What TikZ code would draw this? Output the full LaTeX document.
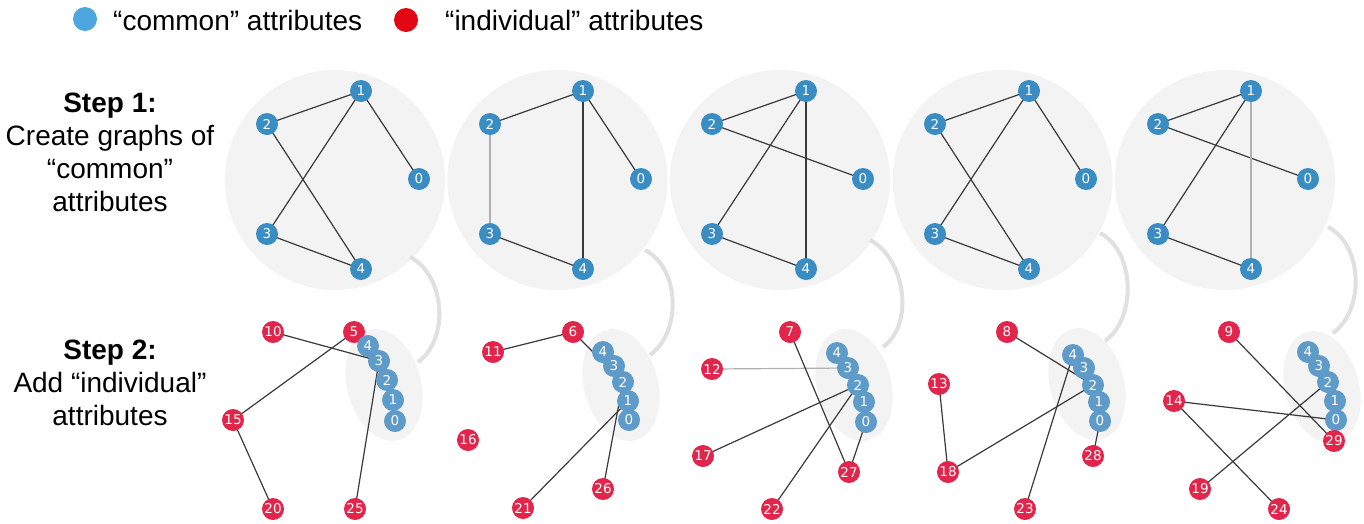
\documentclass[tikz,border=0pt]{standalone}
\usepackage{fontspec}
\setmainfont{Liberation Sans}
\newfontfamily\numfont{DejaVu Sans}
\pgfdeclarelayer{bg}
\pgfdeclarelayer{edges}
\pgfsetlayers{bg,edges,main}
\definecolor{topblue}{HTML}{3A8DC2}
\definecolor{chainblue}{HTML}{5E9BC8}
\definecolor{nodered}{HTML}{E2264B}
\definecolor{legblue}{HTML}{4DA6DE}
\definecolor{legred}{HTML}{E30613}
\definecolor{bggray}{HTML}{F3F3F3}
\definecolor{arcgray}{HTML}{E0E0E0}
\definecolor{edgecol}{HTML}{3A3A3A}
\definecolor{lightedge}{HTML}{B0B0B0}
\begin{document}
\begin{tikzpicture}[x=1pt,y=-1pt,
  nd/.style={circle, inner sep=0pt, minimum size=22pt, text=white, font=\numfont\fontsize{13.5}{13.5}\selectfont},
  tn/.style={nd, fill=topblue},
  cn/.style={nd, fill=chainblue},
  rn/.style={nd, fill=nodered},
  ed/.style={draw=edgecol, line width=1.2pt},
  led/.style={draw=lightedge, line width=1.2pt},
  bgc/.style={fill=bggray},
  link/.style={draw=arcgray, line width=4pt},
  legdot/.style={circle, inner sep=0pt, minimum width=23pt, minimum height=24pt},
  legtext/.style={anchor=west, inner sep=0pt, font=\fontsize{28}{33}\selectfont},
  steptext/.style={align=center, inner sep=0pt, font=\fontsize{28}{33}\selectfont}]
\useasboundingbox (0,0) rectangle (1364,523);
\begin{pgfonlayer}{bg}
\fill[white] (0,0) rectangle (1364,523);
\end{pgfonlayer}

% legend
\node[legdot, fill=legblue] (lb) at (85,19) {};
\node[legtext] (lbt) at (113,20) {“common” attributes};
\node[legdot, fill=legred] (lr) at (406,20) {};
\node[legtext] (lrt) at (445,20) {“individual” attributes};

% step labels
\node[steptext] (s1) at (110,152) {\textbf{Step 1:}\\Create graphs of\\“common”\\attributes};
\node[steptext] (s2) at (110,383) {\textbf{Step 2:}\\Add “individual”\\attributes};

% backgrounds
\begin{pgfonlayer}{bg}
\foreach \cx in {335,557.5,780,1002.5,1225}{\fill[bgc] (\cx,180) circle (110pt);}
\foreach \ex/\ey in {384/385,621/385,854/385,1087/384,1322/387}{
  \fill[bgc, rotate around={15:(\ex,\ey)}] (\ex,\ey) ellipse [x radius=37pt, y radius=57pt];}
\coordinate (a1s) at (410,257); \coordinate (a1e) at (418,362);
\coordinate (a2s) at (645,250); \coordinate (a2e) at (650,355);
\coordinate (a3s) at (870,240); \coordinate (a3e) at (883,347);
\coordinate (a4s) at (1100,233); \coordinate (a4e) at (1105,341);
\coordinate (a5s) at (1328,227); \coordinate (a5e) at (1333,333);
\foreach \i in {1,...,5}{\draw[link] (a\i s) .. controls +(35,18) and +(32,-23) .. (a\i e);}
\end{pgfonlayer}

% ---------- panel 1 ----------
\node[tn] (p1t1) at (361,91) {1};
\node[tn] (p1t2) at (267,124) {2};
\node[tn] (p1t0) at (419,179) {0};
\node[tn] (p1t3) at (267,234) {3};
\node[tn] (p1t4) at (361,269) {4};
\node[rn] (p1r10) at (273,332) {10};
\node[rn] (p1r5) at (354,332) {5};
\node[cn] (p1c4) at (368,346) {4};
\node[cn] (p1c3) at (379,361) {3};
\node[cn] (p1c2) at (387,380) {2};
\node[cn] (p1c1) at (393,400) {1};
\node[cn] (p1c0) at (395,421) {0};
\node[rn] (p1r15) at (233,420) {15};
\node[rn] (p1r20) at (273,509) {20};
\node[rn] (p1r25) at (355,509) {25};

% ---------- panel 2 ----------
\node[tn] (p2t1) at (583,91) {1};
\node[tn] (p2t2) at (490,124) {2};
\node[tn] (p2t0) at (641,179) {0};
\node[tn] (p2t3) at (490,234) {3};
\node[tn] (p2t4) at (583,269) {4};
\node[rn] (p2r6) at (573,332) {6};
\node[rn] (p2r11) at (493,352) {11};
\node[cn] (p2c4) at (603,352) {4};
\node[cn] (p2c3) at (614,366) {3};
\node[cn] (p2c2) at (623,382) {2};
\node[cn] (p2c1) at (628,401) {1};
\node[cn] (p2c0) at (629,420) {0};
\node[rn] (p2r16) at (468,440) {16};
\node[rn] (p2r21) at (523,508) {21};
\node[rn] (p2r26) at (603,489) {26};

% ---------- panel 3 ----------
\node[tn] (p3t1) at (806,91) {1};
\node[tn] (p3t2) at (712,124) {2};
\node[tn] (p3t0) at (863,179) {0};
\node[tn] (p3t3) at (712,234) {3};
\node[tn] (p3t4) at (806,269) {4};
\node[rn] (p3r7) at (790,332) {7};
\node[rn] (p3r12) at (712,369) {12};
\node[cn] (p3c4) at (837,353) {4};
\node[cn] (p3c3) at (848,368) {3};
\node[cn] (p3c2) at (858,385) {2};
\node[cn] (p3c1) at (864,402) {1};
\node[cn] (p3c0) at (866,422) {0};
\node[rn] (p3r17) at (703,456) {17};
\node[rn] (p3r27) at (849,472) {27};
\node[rn] (p3r22) at (772,509) {22};

% ---------- panel 4 ----------
\node[tn] (p4t1) at (1029,91) {1};
\node[tn] (p4t2) at (935,124) {2};
\node[tn] (p4t0) at (1086,179) {0};
\node[tn] (p4t3) at (935,234) {3};
\node[tn] (p4t4) at (1029,269) {4};
\node[rn] (p4r8) at (1007,332) {8};
\node[rn] (p4r13) at (939,384) {13};
\node[cn] (p4c4) at (1073,355) {4};
\node[cn] (p4c3) at (1084,368) {3};
\node[cn] (p4c2) at (1093,385) {2};
\node[cn] (p4c1) at (1099,402) {1};
\node[cn] (p4c0) at (1100,421) {0};
\node[rn] (p4r18) at (948,472) {18};
\node[rn] (p4r28) at (1093,456) {28};
\node[rn] (p4r23) at (1025,509) {23};

% ---------- panel 5 ----------
\node[tn] (p5t1) at (1251,91) {1};
\node[tn] (p5t2) at (1158,124) {2};
\node[tn] (p5t0) at (1308,179) {0};
\node[tn] (p5t3) at (1158,234) {3};
\node[tn] (p5t4) at (1251,269) {4};
\node[rn] (p5r9) at (1229,332) {9};
\node[rn] (p5r14) at (1174,401) {14};
\node[cn] (p5c4) at (1308,352) {4};
\node[cn] (p5c3) at (1319,366) {3};
\node[cn] (p5c2) at (1328,382) {2};
\node[cn] (p5c1) at (1335,401) {1};
\node[cn] (p5c0) at (1336,420) {0};
\node[rn] (p5r29) at (1334,441) {29};
\node[rn] (p5r19) at (1200,489) {19};
\node[rn] (p5r24) at (1279,509) {24};

% ---------- edges ----------
\begin{pgfonlayer}{edges}
% panel 1
\draw[ed] (p1t2.center) -- (p1t1.center);
\draw[ed] (p1t1.center) -- (p1t0.center);
\draw[ed] (p1t1.center) -- (p1t3.center);
\draw[ed] (p1t2.center) -- (p1t4.center);
\draw[ed] (p1t3.center) -- (p1t4.center);
\draw[ed] (p1r10.center) -- (p1c3.center);
\draw[ed] (p1r5.center) -- (p1r15.center);
\draw[ed] (p1r15.center) -- (p1r20.center);
\draw[ed] (p1r25.center) -- (p1c3.center);
% panel 2
\draw[ed] (p2t2.center) -- (p2t1.center);
\draw[ed] (p2t1.center) -- (p2t0.center);
\draw[ed] (p2t1.center) -- (p2t4.center);
\draw[ed] (p2t3.center) -- (p2t4.center);
\draw[led] (p2t2.center) -- (p2t3.center);
\draw[ed] (p2r11.center) -- (p2r6.center);
\draw[ed] (p2r6.center) -- (p2c2.center);
\draw[ed] (p2r26.center) -- (p2c2.center);
\draw[ed] (p2r21.center) -- (p2c1.center);
% panel 3
\draw[ed] (p3t2.center) -- (p3t1.center);
\draw[ed] (p3t2.center) -- (p3t0.center);
\draw[ed] (p3t1.center) -- (p3t3.center);
\draw[ed] (p3t1.center) -- (p3t4.center);
\draw[ed] (p3t3.center) -- (p3t4.center);
\draw[led] (p3r12.center) -- (p3c3.center);
\draw[ed] (p3r7.center) -- (p3r27.center);
\draw[ed] (p3r17.center) -- (p3c2.center);
\draw[ed] (p3r22.center) -- (p3c2.center);
\draw[ed] (p3r27.center) -- (p3c0.center);
% panel 4
\draw[ed] (p4t2.center) -- (p4t1.center);
\draw[ed] (p4t1.center) -- (p4t0.center);
\draw[ed] (p4t1.center) -- (p4t3.center);
\draw[ed] (p4t2.center) -- (p4t4.center);
\draw[ed] (p4t3.center) -- (p4t4.center);
\draw[ed] (p4r8.center) -- (p4c2.center);
\draw[ed] (p4r13.center) -- (p4r18.center);
\draw[ed] (p4r18.center) -- (p4c2.center);
\draw[ed] (p4r23.center) -- (p4c4.center);
\draw[ed] (p4r28.center) -- (p4c0.center);
% panel 5
\draw[ed] (p5t2.center) -- (p5t1.center);
\draw[ed] (p5t2.center) -- (p5t0.center);
\draw[ed] (p5t1.center) -- (p5t3.center);
\draw[ed] (p5t3.center) -- (p5t4.center);
\draw[led] (p5t1.center) -- (p5t4.center);
\draw[ed] (p5r9.center) -- (p5r29.center);
\draw[ed] (p5r14.center) -- (p5c0.center);
\draw[ed] (p5r14.center) -- (p5r24.center);
\draw[ed] (p5r19.center) -- (p5c2.center);
\end{pgfonlayer}
\end{tikzpicture}
\end{document}
